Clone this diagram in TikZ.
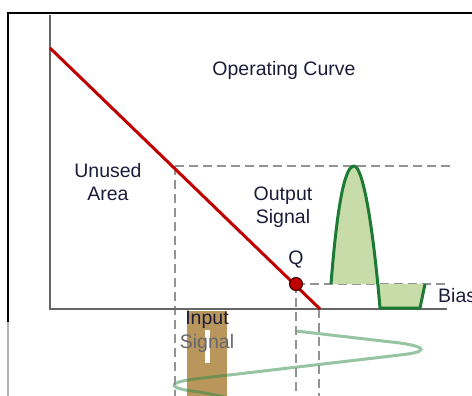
\documentclass[tikz,border=0pt]{standalone}
\usepackage{fontspec}
\setmainfont{Liberation Sans}
\usetikzlibrary{positioning}
\definecolor{curvered}{HTML}{C00000}
\definecolor{sigdark}{HTML}{1D7A34}
\definecolor{sigfill}{HTML}{C8DCAA}
\definecolor{sinegreen}{HTML}{2F8A45}
\definecolor{inbrown}{HTML}{B9975C}
\definecolor{labelink}{HTML}{1C1C3A}
\tikzset{
  lbl/.style={text=labelink, font=\fontsize{19.5}{23.5}\selectfont, inner sep=0pt, align=center},
  guide/.style={gray!85, line width=1.2pt, dash pattern=on 9pt off 5pt},
}
\begin{document}
\begin{tikzpicture}[x=1pt, y=-1pt]
    \useasboundingbox (0,0) rectangle (472,396);
    % frame of the cut-out picture
    \draw[black, line width=2pt] (8,397) -- (8,13) -- (473,13);
    \draw[gray!60, line width=2pt] (8,322) -- (8,397);

    % input signal, drawn below the axis
    \fill[inbrown] (187,311) rectangle (227,397);
    \fill[white] (205,330) rectangle (210,363);
    \draw[sinegreen, opacity=0.5, line width=3pt, line cap=round]
        (296,331) -- (400,343) .. controls (428,347) and (428,352) .. (400,355)
        -- (195,379) .. controls (163,383) and (170,389) .. (200,392) -- (240,400);

    % guide lines
    \draw[guide] (175,166) -- (450,166);
    \draw[guide] (175,166) -- (175,397);
    \draw[guide] (296,284) -- (445,284);
    \draw[guide] (296,284) -- (296,397);
    \draw[guide] (319,309) -- (319,397);

    % axes
    \draw[gray!80!black, line width=1.5pt] (50,15) -- (50,309) -- (447,309);

    % operating curve and Q point
    \coordinate (ctop) at (50,48);
    \coordinate (cend) at (320,309);
    \draw[curvered, line width=3pt] (ctop) -- (cend);
    \node[circle, fill=curvered, draw=black!70!curvered, line width=1pt,
          minimum size=13pt, inner sep=0pt] (q) at (296,284) {};

    % output signal
    \fill[sigfill] (331,284) .. controls (338,195) and (346,166) .. (354,166)
        .. controls (362,166) and (372,215) .. (380,308) -- (420,308) -- (425,284) -- cycle;
    \draw[sigdark, line width=3pt, line join=round]
        (331,284) .. controls (338,195) and (346,166) .. (354,166)
        .. controls (362,166) and (372,215) .. (380,308) -- (420,308) -- (425,284);

    % labels
    \node[lbl] (title) at (284,70) {Operating Curve};
    \node[lbl] (unused) at (108,182) {Unused\\Area};
    \node[lbl] (output) at (283,207) {Output\\Signal};
    \node[lbl, above=9pt of q] (qlabel) {Q};
    \node[lbl, anchor=west] (bias) at (438,296) {Bias};
    \node[lbl] (input) at (207,320) {Input};
    \node[lbl, text=gray!75!labelink] (signal) at (207,343) {Signal};
\end{tikzpicture}
\end{document}
